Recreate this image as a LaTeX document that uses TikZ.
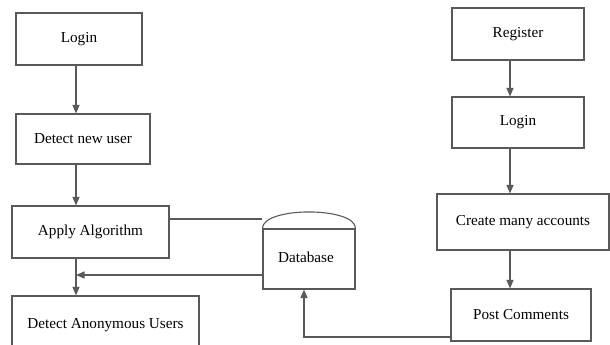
\documentclass[tikz,border=0pt]{standalone}
\usepackage{fontspec}
\setmainfont{Liberation Serif}
\usetikzlibrary{arrows.meta}

\tikzset{
  box/.style={rectangle, draw=black!65, line width=1.1pt, inner sep=0pt},
  flow/.style={draw=black!65, line width=1.1pt},
}

\begin{document}
\begin{tikzpicture}[->,>={Triangle[length=8.5pt,width=7pt]},x=1pt,y=-1pt,
    every node/.style={text=black, font=\fontsize{15.2}{18}\selectfont}]

    \useasboundingbox (0,0) rectangle (610,345);

    % left side
    \node[box,
          minimum width = 126pt,
          minimum height = 52pt
          ] (login1) at (79,39) {};
    \node[] (login1-t) at (login1.center) {Login};

    \node[box,
          minimum width = 134pt,
          minimum height = 50pt
          ] (detect) at (83,139) {};
    \node[] (detect-t) at (detect.center) {Detect new user};

    \node[box,
          minimum width = 157pt,
          minimum height = 52pt
          ] (apply) at (90.5,232) {};
    \node[] (apply-t) at (apply.center) {Apply Algorithm};

    \node[box,
          minimum width = 187pt,
          minimum height = 58pt
          ] (anon) at (105.5,325) {};
    \node[] (anon-t) at (anon.center) {Detect Anonymous Users};

    % database
    \node[box,
          minimum width = 92pt,
          minimum height = 60pt
          ] (db) at (309,259) {};
    \node[] (db-t) at ([xshift=-3pt,yshift=2pt]db.center) {Database};
    \draw[flow,-] (db.north west) .. controls ([yshift=22pt]db.north west) and ([yshift=22pt]db.north east) .. (db.north east);

    % right side
    \node[box,
          minimum width = 132pt,
          minimum height = 52pt
          ] (reg) at (518,34) {};
    \node[] (reg-t) at (reg.center) {Register};

    \node[box,
          minimum width = 132pt,
          minimum height = 51pt
          ] (login2) at (518,122.5) {};
    \node[] (login2-t) at (login2.center) {Login};

    \node[box,
          minimum width = 172pt,
          minimum height = 56pt
          ] (create) at (523,222) {};
    \node[] (create-t) at (create.center) {Create many accounts};

    \node[box,
          minimum width = 140pt,
          minimum height = 52pt
          ] (post) at (521,315) {};
    \node[] (post-t) at (post.center) {Post Comments};

    \coordinate (lcol) at (76,0);
    \coordinate (rcol) at (510,0);
    \coordinate (join) at (76,275);

    \path[every edge/.style={flow}]
    %left flow
    (login1.south -| lcol) edge [] (detect.north -| lcol)
    (detect.south -| lcol) edge [] (apply.north -| lcol)
    (apply.south -| lcol) edge [] (anon.north -| lcol)
    %right flow
    (reg.south -| rcol) edge [] (login2.north -| rcol)
    (login2.south -| rcol) edge [] (create.north -| rcol)
    (create.south -| rcol) edge [] (post.north -| rcol) ;

    \draw[flow,-] ([yshift=13pt]apply.east) -- ([yshift=13pt]apply.east -| db.west);
    \draw[flow] (join -| db.west) -- (join);
    \draw[flow] ([yshift=-22pt]post.west) -| ([xshift=-5pt]db.south);

\end{tikzpicture}
\end{document}
